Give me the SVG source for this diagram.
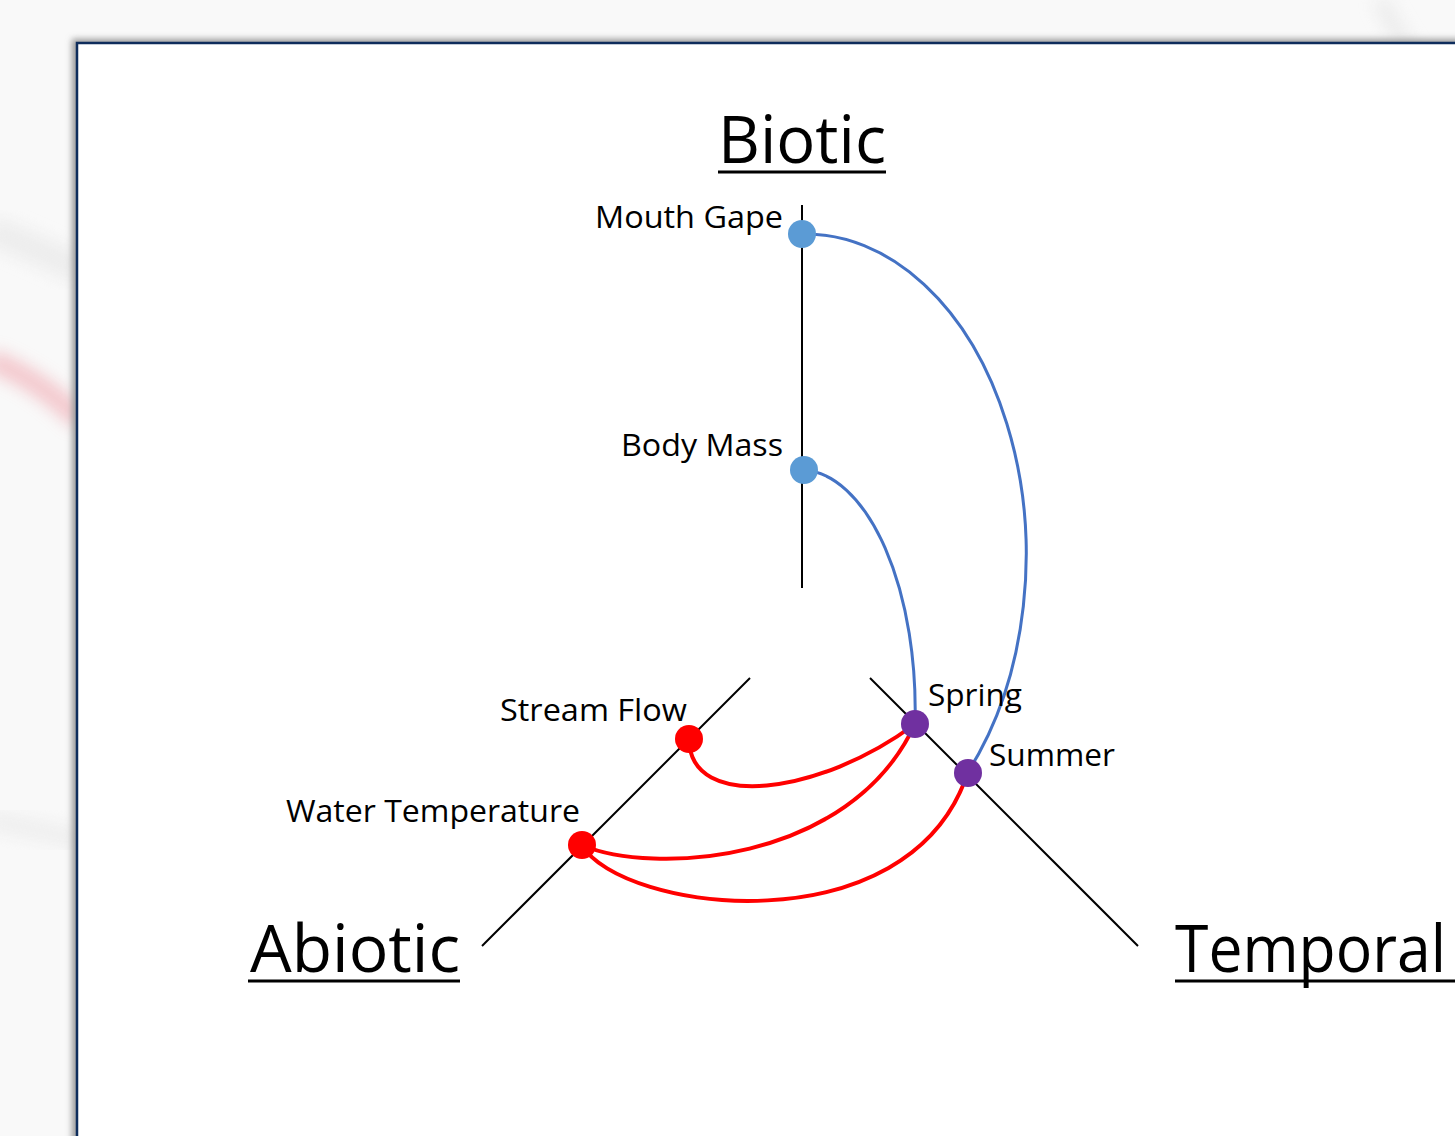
<svg xmlns="http://www.w3.org/2000/svg" width="1455" height="1136" viewBox="0 0 1455 1136">
<style>
.lbl{font-family:"Open Sans","Liberation Sans",sans-serif;font-size:31px;fill:#000}
.ttl{font-family:"Open Sans","Liberation Sans",sans-serif;font-size:66px;fill:#000}
.axis{stroke:#000;stroke-width:2;fill:none}
.ul{stroke:#000;stroke-width:3}
.blue{stroke:#4472c4;stroke-width:3;fill:none}
.red{stroke:#ff0000;stroke-width:4;fill:none}
.nb{fill:#5b9bd5}
.nr{fill:#ff0000}
.np{fill:#7030a0}
</style>
<defs>
<filter id="blur" x="-50%" y="-50%" width="200%" height="200%"><feGaussianBlur stdDeviation="8"/></filter>
<filter id="sh" x="-10%" y="-10%" width="120%" height="120%"><feGaussianBlur stdDeviation="3"/></filter>
</defs>
<rect width="1455" height="1136" fill="#f9f9f9"/>
<g id="background-streaks" opacity="0.6">
<path d="M-10,360 Q40,380 80,420" stroke="#f0a8b0" stroke-width="22" fill="none" filter="url(#blur)"/>
<path d="M-10,230 Q40,250 80,270" stroke="#e6e6e6" stroke-width="30" fill="none" filter="url(#blur)"/>
<path d="M-10,820 Q40,830 80,840" stroke="#e8e8e8" stroke-width="20" fill="none" filter="url(#blur)"/>
<path d="M1380,0 Q1400,40 1430,80" stroke="#e4e4e4" stroke-width="16" fill="none" filter="url(#blur)"/>
</g>
<rect x="72" y="39" width="1400" height="1120" fill="#9a9a9a" filter="url(#sh)"/>
<rect id="frame" x="77" y="43" width="1400" height="1120" fill="#ffffff" stroke="#0e2d5c" stroke-width="2.5"/>

<g id="axes">
<line class="axis" x1="802" y1="205" x2="802" y2="588"/>
<line class="axis" x1="750" y1="678" x2="482" y2="946"/>
<line class="axis" x1="870" y1="678" x2="1138" y2="946"/>
</g>

<g id="connectors">
<path class="blue" d="M802,234 A221,321 0 0 1 968,772"/>
<path class="blue" d="M804,470 A115,240 0 0 1 915,724"/>
<path class="red" d="M689,739 C690,812 820,795 915,724"/>
<path class="red" d="M582,845 C650,875 850,865 915,724"/>
<path class="red" d="M582,845 C620,912 910,950 968,772"/>
</g>

<g id="title-biotic">
<text class="ttl" x="718" y="163" textLength="168" lengthAdjust="spacingAndGlyphs">Biotic</text>
<line class="ul" x1="718" y1="172" x2="886" y2="172"/>
</g>
<g id="title-abiotic">
<text class="ttl" x="250" y="972" textLength="210" lengthAdjust="spacingAndGlyphs">Abiotic</text>
<line class="ul" x1="248" y1="981" x2="460" y2="981"/>
</g>
<g id="title-temporal">
<text class="ttl" x="1175" y="972" textLength="271" lengthAdjust="spacingAndGlyphs">Temporal</text>
<line class="ul" x1="1175" y1="981" x2="1455" y2="981"/>
</g>

<g id="node-mouth-gape">
<circle class="nb" cx="802" cy="234" r="14"/>
<text class="lbl" x="595" y="228" textLength="188" lengthAdjust="spacingAndGlyphs">Mouth Gape</text>
</g>
<g id="node-body-mass">
<circle class="nb" cx="804" cy="470" r="14"/>
<text class="lbl" x="621" y="456" textLength="162" lengthAdjust="spacingAndGlyphs">Body Mass</text>
</g>
<g id="node-stream-flow">
<circle class="nr" cx="689" cy="739" r="14"/>
<text class="lbl" x="500" y="721" textLength="187" lengthAdjust="spacingAndGlyphs">Stream Flow</text>
</g>
<g id="node-water-temperature">
<circle class="nr" cx="582" cy="845" r="14"/>
<text class="lbl" x="286" y="822" textLength="294" lengthAdjust="spacingAndGlyphs">Water Temperature</text>
</g>
<g id="node-spring">
<circle class="np" cx="915" cy="724" r="14"/>
<text class="lbl" x="928" y="706" textLength="94" lengthAdjust="spacingAndGlyphs">Spring</text>
</g>
<g id="node-summer">
<circle class="np" cx="968" cy="773" r="14"/>
<text class="lbl" x="989" y="766" textLength="126" lengthAdjust="spacingAndGlyphs">Summer</text>
</g>
</svg>
